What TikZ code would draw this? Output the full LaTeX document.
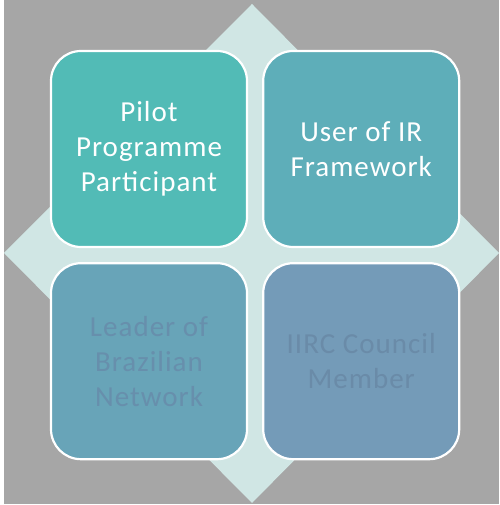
\documentclass[tikz,border=0pt]{standalone}
\usepackage{fontspec}
\setmainfont[LetterSpace=3.5]{Carlito}
\usepackage{tikz}
\usetikzlibrary{positioning}
\definecolor{col1}{RGB}{82,187,182}
\definecolor{col2}{RGB}{94,174,185}
\definecolor{col3}{RGB}{104,164,184}
\definecolor{col4}{RGB}{116,155,184}
\definecolor{col5}{RGB}{208,230,228}
\definecolor{col6}{RGB}{166,166,166}
\definecolor{col7}{RGB}{103,143,172}
\definecolor{col8}{RGB}{106,139,168}
\tikzstyle{role}=[draw=white, line width=2.2pt, rounded corners=30pt, minimum width=196pt, minimum height=196pt, align=center, font=\fontsize{29}{35}\selectfont]
\tikzstyle{lead}=[role, fill=col1, text=white]
\tikzstyle{user}=[role, fill=col2, text=white]
\tikzstyle{net}=[role, fill=col3, text=col7]
\tikzstyle{council}=[role, fill=col4, text=col8]

\begin{document}
\begin{tikzpicture}[x=1pt,y=1pt,node distance=14pt]
		    % page and background
		    \useasboundingbox (0,0) rectangle (499,505);
		    \fill[white] (0,0) rectangle (499,505);
		    \fill[col6] (4,1) rectangle (499,505);
		    % diamond behind the boxes
		    \fill[col5] (4,252) -- (252,501) -- (499,252) -- (252,2) -- cycle;
		    \node [lead] (a) at (149,356) {Pilot\\Programme\\Participant};
		    \node [user] (b) [right=of a] {User of IR\\Framework};
		    \node [net] (c) [below=of a] {Leader of\\Brazilian\\Network};
		    \node [council] (d) [right=of c] {IIRC Council\\Member};
		\end{tikzpicture}
\end{document}
